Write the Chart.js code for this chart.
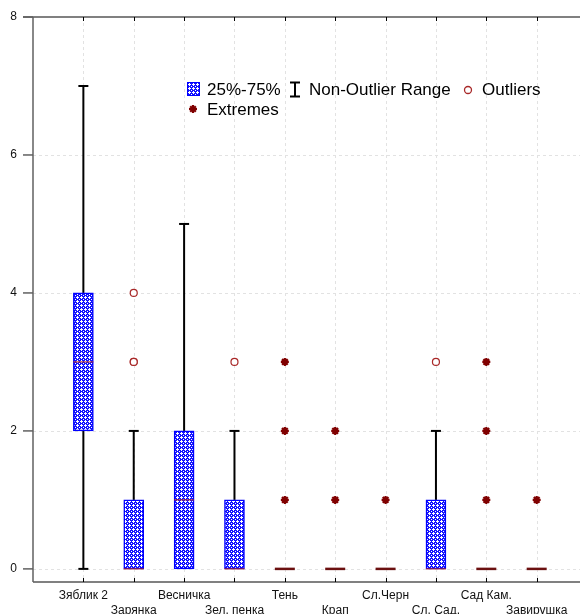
<!DOCTYPE html>
<html>
<head>
<meta charset="utf-8">
<script src="https://cdn.jsdelivr.net/npm/chart.js@4.4.1/dist/chart.umd.min.js"></script>
<style>
    body { margin: 0; background: #fff; }
    #wrap { position: relative; width: 580px; height: 614px; font-family: 'Liberation Sans', Arial, sans-serif; }
    .lg { position: absolute; font-size: 17px; line-height: 20px; color: #000; white-space: nowrap; }
    .sym { position: absolute; }
</style>
</head>
<body>
<div id="wrap">
    <canvas id="chart" width="580" height="614"></canvas>
    <div id="legend"></div>
</div>
<script>
const categories = ['Зяблик 2', 'Зарянка', 'Весничка', 'Зел. пенка', 'Тень', 'Крап', 'Сл.Черн', 'Сл. Сад.', 'Сад Кам.', 'Завирушка'];
const q1 = [2, 0, 0, 0, 0, 0, 0, 0, 0, 0];
const q3 = [4, 1, 2, 1, 0, 0, 0, 1, 0, 0];
const medians = [3, 0, 1, 0, 0, 0, 0, 0, 0, 0];
const whiskerLow = [0, 0, 0, 0, 0, 0, 0, 0, 0, 0];
const whiskerHigh = [7, 2, 5, 2, 0, 0, 0, 2, 0, 0];
// [category index, value]
const outliers = [[1, 3], [1, 3], [1, 4], [3, 3], [7, 3]];
const extremes = [[4, 1], [4, 2], [4, 3], [5, 1], [5, 2], [6, 1], [8, 1], [8, 2], [8, 3], [9, 1]];
const yTicks = [0, 2, 4, 6, 8];

// crosshatch fill for the boxes
function makePattern() {
    const c = document.createElement('canvas');
    c.width = 4; c.height = 4;
    const g = c.getContext('2d');
    g.fillStyle = '#1414ff';
    g.fillRect(0, 0, 4, 4);
    g.fillStyle = '#ffffff';
    [[1, 0], [0, 1], [1, 1], [2, 1], [1, 2], [3, 3]].forEach(p => g.fillRect(p[0], p[1], 1, 1));
    return c;
}
const patCanvas = makePattern();
const ctx0 = document.getElementById('chart').getContext('2d');
const boxFill = ctx0.createPattern(patCanvas, 'repeat');

const boxData = [];
categories.forEach((c, i) => {
    if (q1[i] !== q3[i]) boxData.push({ x: i, y: [q1[i], q3[i]] });
});

const framePlugin = {
    id: 'frame',
    beforeDatasetsDraw(chart) {
        const { ctx, chartArea: a, scales: { x, y } } = chart;
        ctx.save();
        // dashed grid
        ctx.strokeStyle = '#e2e2e2';
        ctx.lineWidth = 1;
        ctx.setLineDash([3, 3]);
        yTicks.forEach(v => {
            if (v === 8) return;
            const py = Math.round(y.getPixelForValue(v)) + 0.5;
            ctx.beginPath(); ctx.moveTo(a.left, py); ctx.lineTo(a.right, py); ctx.stroke();
        });
        categories.forEach((c, i) => {
            const px = Math.round(x.getPixelForValue(i)) + 0.5;
            ctx.beginPath(); ctx.moveTo(px, a.top); ctx.lineTo(px, a.bottom); ctx.stroke();
        });
        ctx.setLineDash([]);

        // axes
        ctx.strokeStyle = '#808080';
        ctx.lineWidth = 2;
        ctx.beginPath(); ctx.moveTo(a.left - 10, a.top); ctx.lineTo(a.right, a.top); ctx.stroke();
        ctx.beginPath(); ctx.moveTo(a.left, a.bottom); ctx.lineTo(a.right, a.bottom); ctx.stroke();
        ctx.strokeStyle = '#606060';
        ctx.lineWidth = 1.5;
        ctx.beginPath(); ctx.moveTo(a.left, a.top); ctx.lineTo(a.left, a.bottom); ctx.stroke();
        yTicks.forEach(v => {
            const py = y.getPixelForValue(v);
            ctx.beginPath(); ctx.moveTo(a.left - 10, py); ctx.lineTo(a.left, py); ctx.stroke();
        });
        ctx.strokeStyle = '#000';
        ctx.lineWidth = 1;
        categories.forEach((c, i) => {
            const px = Math.round(x.getPixelForValue(i)) + 0.5;
            ctx.beginPath(); ctx.moveTo(px, a.bottom - 4); ctx.lineTo(px, a.bottom); ctx.stroke();
            ctx.beginPath(); ctx.moveTo(px, a.top); ctx.lineTo(px, a.top + 4); ctx.stroke();
        });

        // whiskers
        ctx.strokeStyle = '#000';
        ctx.lineWidth = 2;
        categories.forEach((c, i) => {
            const px = x.getPixelForValue(i);
            const seg = (from, to) => {
                const y1 = y.getPixelForValue(from), y2 = y.getPixelForValue(to);
                ctx.beginPath(); ctx.moveTo(px, y1); ctx.lineTo(px, y2); ctx.stroke();
                ctx.beginPath(); ctx.moveTo(px - 5, y2); ctx.lineTo(px + 5, y2); ctx.stroke();
            };
            if (whiskerHigh[i] > q3[i]) seg(q3[i], whiskerHigh[i]);
            if (whiskerLow[i] < q1[i]) seg(q1[i], whiskerLow[i]);
        });
        ctx.restore();
    },
    afterDatasetDraw(chart, args) {
        if (args.index !== 0) return;
        const { ctx, scales: { x, y } } = chart;
        ctx.save();
        categories.forEach((c, i) => {
            const px = x.getPixelForValue(i);
            const py = y.getPixelForValue(medians[i]);
            const flat = q1[i] === q3[i];
            ctx.strokeStyle = flat ? '#6b1010' : '#b02020';
            ctx.lineWidth = flat ? 2.5 : 1;
            ctx.beginPath(); ctx.moveTo(px - 10, py); ctx.lineTo(px + 10, py); ctx.stroke();
        });
        ctx.restore();
    }
};

new Chart(ctx0, {
    type: 'bar',
    data: {
        datasets: [
            {
                type: 'bar',
                label: '25%-75%',
                data: boxData,
                backgroundColor: boxFill,
                borderColor: '#0000ff',
                borderWidth: 1.5,
                borderSkipped: false,
                barThickness: 20,
                order: 3
            },
            {
                type: 'scatter',
                label: 'Outliers',
                data: outliers.map(o => ({ x: o[0], y: o[1] })),
                pointStyle: 'circle',
                pointRadius: 3.5,
                pointBorderWidth: 1.2,
                pointBorderColor: '#a82828',
                pointBackgroundColor: '#ffffff',
                order: 2
            },
            {
                type: 'scatter',
                label: 'Extremes',
                data: extremes.map(o => ({ x: o[0], y: o[1] })),
                pointStyle: 'star',
                pointRadius: 4,
                pointBorderWidth: 2.2,
                pointBorderColor: '#800000',
                pointBackgroundColor: '#800000',
                order: 1
            }
        ]
    },
    options: {
        responsive: false,
        animation: false,
        layout: { autoPadding: false, padding: { top: 17, right: 0, left: 0, bottom: 0 } },
        plugins: { legend: { display: false }, tooltip: { enabled: false } },
        scales: {
            x: {
                type: 'linear',
                offset: false,
                min: -1,
                max: 9.86,
                grid: { display: false, offset: false },
                border: { display: false },
                afterBuildTicks: s => { s.ticks = categories.map((c, i) => ({ value: i })); },
                afterFit: s => { s.height = 32; s.paddingRight = 0; s.paddingLeft = 0; },
                ticks: {
                    autoSkip: false,
                    maxRotation: 0,
                    minRotation: 0,
                    padding: -2,
                    color: '#111',
                    font: { family: 'Liberation Sans', size: 12, lineHeight: 1.25 },
                    callback: (v, idx) => idx % 2 === 0 ? [categories[idx], ''] : ['', categories[idx]]
                }
            },
            y: {
                min: -0.19,
                max: 8,
                grid: { display: false },
                border: { display: false },
                afterBuildTicks: s => { s.ticks = yTicks.map(v => ({ value: v })); },
                afterFit: s => { s.width = 33; s.paddingTop = 0; s.paddingBottom = 0; },
                ticks: {
                    padding: 8,
                    color: '#111',
                    font: { family: 'Liberation Sans', size: 12 }
                }
            }
        }
    },
    plugins: [framePlugin]
});

// legend
const legend = document.getElementById('legend');
const swatchUrl = patCanvas.toDataURL();
legend.innerHTML = `
    <div class="sym" style="left:187px;top:82px;width:11px;height:12px;border:1px solid #0000ff;background-image:url(${swatchUrl});"></div>
    <div class="lg" style="left:207px;top:80px;">25%-75%</div>
    <svg class="sym" style="left:288px;top:81px;" width="14" height="17">
        <line x1="2" y1="1.5" x2="12" y2="1.5" stroke="#000" stroke-width="2"/>
        <line x1="7" y1="1.5" x2="7" y2="15.5" stroke="#000" stroke-width="2"/>
        <line x1="2" y1="15.5" x2="12" y2="15.5" stroke="#000" stroke-width="2"/>
    </svg>
    <div class="lg" style="left:309px;top:80px;">Non-Outlier Range</div>
    <svg class="sym" style="left:463px;top:85px;" width="10" height="10">
        <circle cx="5" cy="5" r="3.5" fill="#fff" stroke="#a82828" stroke-width="1.3"/>
    </svg>
    <div class="lg" style="left:482px;top:80px;">Outliers</div>
    <svg class="sym" style="left:188px;top:104px;" width="10" height="10">
        <g stroke="#800000" stroke-width="2.2">
            <line x1="5" y1="1" x2="5" y2="9"/><line x1="1" y1="5" x2="9" y2="5"/>
            <line x1="2.2" y1="2.2" x2="7.8" y2="7.8"/><line x1="7.8" y1="2.2" x2="2.2" y2="7.8"/>
        </g>
    </svg>
    <div class="lg" style="left:207px;top:100px;">Extremes</div>
`;
</script>
</body>
</html>
